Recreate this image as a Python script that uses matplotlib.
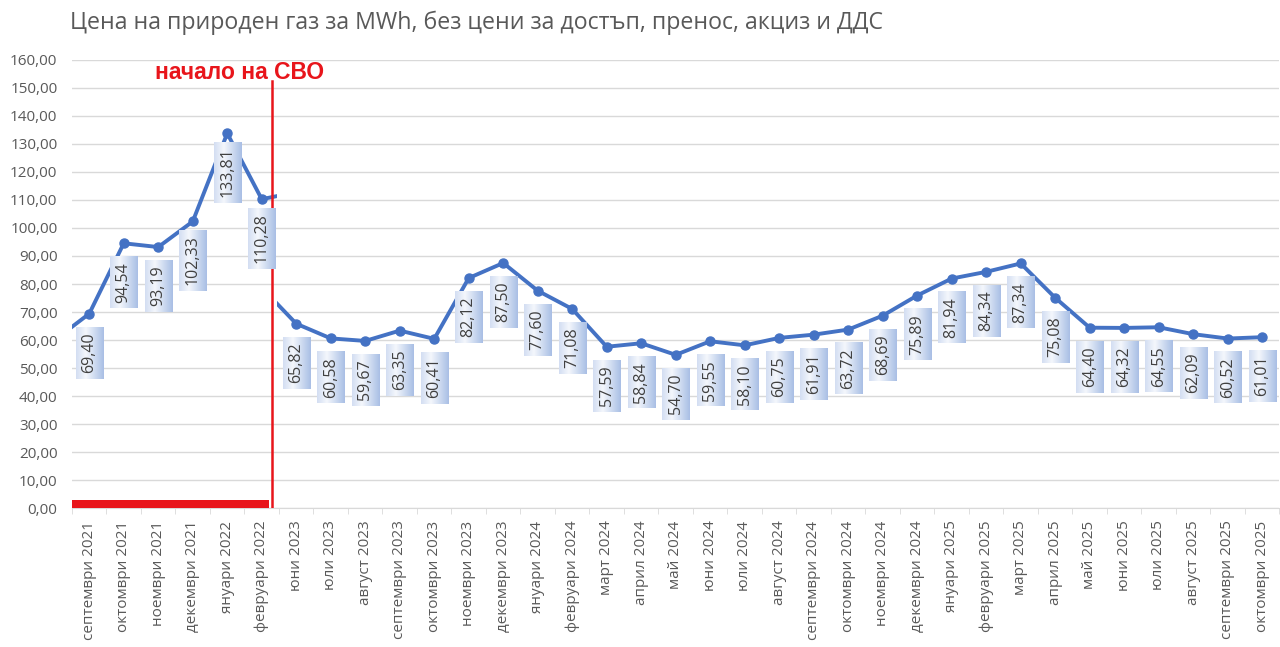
import numpy as np
import matplotlib
matplotlib.use('Agg')
import matplotlib.pyplot as plt
from matplotlib.patches import Rectangle
from matplotlib.colors import LinearSegmentedColormap

plt.rcParams['font.family'] = ['Open Sans', 'DejaVu Sans']

# данни
months = ['септември 2021', 'октомври 2021', 'ноември 2021', 'декември 2021',
          'януари 2022', 'февруари 2022',
          'юни 2023', 'юли 2023', 'август 2023', 'септември 2023', 'октомври 2023',
          'ноември 2023', 'декември 2023',
          'януари 2024', 'февруари 2024', 'март 2024', 'април 2024', 'май 2024',
          'юни 2024', 'юли 2024', 'август 2024', 'септември 2024', 'октомври 2024',
          'ноември 2024', 'декември 2024',
          'януари 2025', 'февруари 2025', 'март 2025', 'април 2025', 'май 2025',
          'юни 2025', 'юли 2025', 'август 2025', 'септември 2025', 'октомври 2025']
prices = [69.40, 94.54, 93.19, 102.33, 133.81, 110.28,
          65.82, 60.58, 59.67, 63.35, 60.41, 82.12, 87.50,
          77.60, 71.08, 57.59, 58.84, 54.70, 59.55, 58.10, 60.75, 61.91, 63.72,
          68.69, 75.89,
          81.94, 84.34, 87.34, 75.08, 64.40, 64.32, 64.55, 62.09, 60.52, 61.01]
# скрити съседни точки (линията е отрязана от ръба / при прекъсването)
hidden_before = 60.0    # август 2021
hidden_after_war = 112.8   # след февруари 2022
hidden_before_jun = 78.7   # май 2023

n_war = 6   # брой месеци преди СВО
cut_x = 5.45
svo_x = 5.3

blue = '#4472C4'
grey_txt = '#595959'
red = '#E8151B'

fig = plt.figure(figsize=(12.8, 6.47), dpi=100)
ax = fig.add_axes([0.05625, 0.2148, 0.9433, 0.6925])

x_all = np.arange(len(months))

# първи сегмент
x1 = np.arange(-1, n_war + 1)
y1 = [hidden_before] + prices[:n_war] + [hidden_after_war]
l1, = ax.plot(x1, y1, color=blue, lw=2.8, zorder=3, solid_capstyle='butt')
l1.set_clip_path(Rectangle((-0.5, 0), cut_x + 0.5, 200, transform=ax.transData))

# втори сегмент
x2 = np.arange(n_war - 1, len(months))
y2 = [hidden_before_jun] + prices[n_war:]
l2, = ax.plot(x2, y2, color=blue, lw=2.8, zorder=3, solid_capstyle='butt')
l2.set_clip_path(Rectangle((cut_x, 0), 40, 200, transform=ax.transData))

ax.plot(x_all, prices, 'o', color=blue, ms=6.5, zorder=4)

# червена линия и лента
ax.plot([svo_x, svo_x], [0, 152.5], color=red, lw=1.8, zorder=5)
ax.add_patch(Rectangle((-0.5, 0), 5.7, 3.0, color=red, lw=0, zorder=5))
ax.text(4.37, 155.7, 'начало на СВО', color=red, fontsize=16.5, fontweight='bold',
        family=['Liberation Sans Narrow', 'Liberation Sans', 'DejaVu Sans'],
        ha='center', va='center', zorder=6)

# етикети с данни
labels = []
for xi, v in zip(x_all, prices):
    t = ax.annotate(f'{v:.2f}'.replace('.', ','), (xi, v), xytext=(0, -39),
                    textcoords='offset pixels', rotation=90, ha='center', va='center',
                    fontsize=11.5, color='#404040', zorder=8,
                    bbox=dict(boxstyle='square,pad=0.35', fc='none', ec='none'))
    labels.append(t)

ax.set_xlim(-0.5, len(months) - 0.5)
ax.set_ylim(0, 160)
ax.set_yticks(np.arange(0, 161, 10))
ax.set_yticklabels([f'{v:.2f}'.replace('.', ',') for v in np.arange(0, 161, 10)])
ax.set_xticks(x_all)
ax.set_xticklabels(months, rotation=90)
ax.set_xticks(np.arange(-0.5, len(months)), minor=True)
ax.tick_params(axis='x', which='major', length=0, labelsize=11, labelcolor=grey_txt, pad=9)
ax.tick_params(axis='x', which='minor', length=4, color='#d9d9d9')
ax.tick_params(axis='y', length=0, labelsize=11, labelcolor=grey_txt, pad=10.5)
ax.grid(axis='y', color='#d9d9d9', lw=1)
ax.set_axisbelow(True)
for s in ['top', 'right', 'left']:
    ax.spines[s].set_visible(False)
ax.spines['bottom'].set_color('#d9d9d9')

fig.text(0.055, 0.965, 'Цена на природен газ за MWh, без цени за достъп, пренос, акциз и ДДС',
         fontsize=16.7, color=grey_txt, ha='left', va='center')

# градиентен фон на етикетите
grad_cmap = LinearSegmentedColormap.from_list('g', [(0, '#d3def2'), (0.35, '#f4f7fc'), (1, '#a9bfe5')])
grad = np.linspace(0, 1, 64).reshape(1, -1)
fig.canvas.draw()
inv = ax.transData.inverted()
for t in labels:
    bb = t.get_bbox_patch().get_window_extent()
    (xa, ya), (xb, yb) = inv.transform([[bb.x0, bb.y0], [bb.x1, bb.y1]])
    ax.imshow(grad, cmap=grad_cmap, extent=[xa, xb, ya, yb], aspect='auto',
              interpolation='bilinear', zorder=7)
ax.set_xlim(-0.5, len(months) - 0.5)
ax.set_ylim(0, 160)

fig.savefig('out.png', dpi=100)
